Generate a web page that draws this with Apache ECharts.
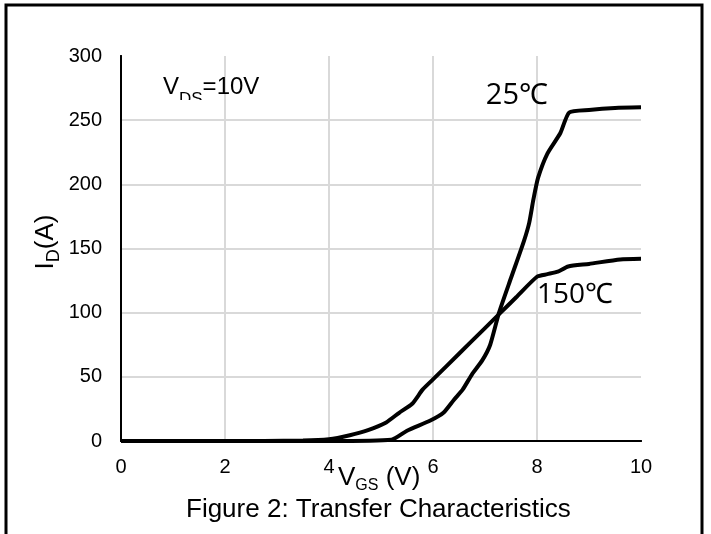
<!DOCTYPE html>
<html>
<head>
<meta charset="utf-8">
<script src="https://cdn.jsdelivr.net/npm/echarts@6/dist/echarts.min.js"></script>
<style>
  html, body { margin: 0; padding: 0; background: #fff; }
  #chart { width: 711px; height: 534px; }
</style>
</head>
<body>
<div id="chart"></div>
<script>
// 25℃ curve
const vgs25 = [0, 2, 4, 5.2, 5.5, 5.95, 6.2, 6.4, 6.57, 6.75, 6.95, 7.1, 7.27, 7.5, 7.75, 7.85, 7.93, 8.02, 8.2, 8.45, 8.62, 9.0, 9.5, 10]
const id25 = [0, 0, 0, 1, 8, 16, 22, 32, 40, 52, 63, 75, 100, 127, 156, 170, 188, 205, 224, 240, 256, 258, 259.5, 260]
// 150℃ curve
const vgs150 = [0, 2, 3.5, 4.0, 4.4, 4.75, 5.1, 5.35, 5.6, 5.8, 6.0, 6.5, 7.0, 7.3, 7.6, 8.0, 8.2, 8.4, 8.6, 9.0, 9.6, 10]
const id150 = [0, 0, 0.3, 1.3, 4.5, 8.5, 14.5, 22, 29, 40, 48, 68, 88, 100, 112, 128, 130, 132, 136, 138, 141.5, 142]

const FONT = 'Liberation Sans'
const zip = (xs, ys) => xs.map((x, i) => [x, ys[i]])

const chart = echarts.init(document.getElementById('chart'))

// top / right edges of the plot box
const edgeAxis = {
  show: true,
  axisLine: { show: true, lineStyle: { color: '#000', width: 2 } },
  axisTick: { show: false },
  axisLabel: { show: false },
  splitLine: { show: false }
}
const grid = { show: true, showMinLine: false, showMaxLine: false, lineStyle: { color: '#d9d9d9', width: 2 } }

chart.setOption({
  animation: false,
  backgroundColor: '#fff',
  grid: { left: 121, right: 70, top: 56, bottom: 93 },
  xAxis: [
    {
      type: 'value', min: 0, max: 10, interval: 2,
      axisLine: { show: true, onZero: false, lineStyle: { color: '#000', width: 2 } },
      axisTick: { show: false },
      axisLabel: { color: '#000', fontFamily: FONT, fontSize: 20, margin: 16 },
      splitLine: grid
    },
    Object.assign({ type: 'value', min: 0, max: 10, position: 'top' }, edgeAxis)
  ],
  yAxis: [
    {
      type: 'value', min: 0, max: 300, interval: 50,
      axisLine: { show: true, onZero: false, lineStyle: { color: '#000', width: 2 } },
      axisTick: { show: false },
      axisLabel: { color: '#000', fontFamily: FONT, fontSize: 20, margin: 19 },
      splitLine: grid
    },
    Object.assign({ type: 'value', min: 0, max: 300, position: 'right' }, edgeAxis)
  ],
  graphic: [
    {
      type: 'rect', silent: true, z: 100,
      shape: { x: 6, y: 5, width: 696, height: 560 },
      style: { fill: 'none', stroke: '#000', lineWidth: 3 }
    },
    {
      type: 'text', x: 163, y: 87, z: 100,
      style: {
        text: '{m|V}{s|DS}{m|=10V}', verticalAlign: 'middle',
        rich: {
          m: { fontFamily: FONT, fontSize: 24, fill: '#000' },
          s: { fontFamily: FONT, fontSize: 17, fill: '#000', padding: [24, 0, 0, 0] }
        }
      }
    },
    {
      // the subscript is cut off at the bottom in the original
      type: 'rect', silent: true, z: 101,
      shape: { x: 178, y: 100, width: 30, height: 10 },
      style: { fill: '#fff' }
    },
    {
      type: 'text', x: 548, y: 96, z: 100,
      style: { text: '25℃', align: 'right', verticalAlign: 'middle', fontFamily: 'Open Sans', fontSize: 29, fill: '#000' }
    },
    {
      type: 'text', x: 613, y: 295, z: 100,
      style: { text: '150℃', align: 'right', verticalAlign: 'middle', fontFamily: 'Open Sans', fontSize: 28, fill: '#000' }
    },
    {
      type: 'text', x: 46, y: 242, rotation: Math.PI / 2, z: 100,
      style: {
        text: '{m|I}{s|D}{m|(A)}', align: 'center', verticalAlign: 'middle',
        rich: {
          m: { fontFamily: FONT, fontSize: 26, fill: '#000' },
          s: { fontFamily: FONT, fontSize: 18, fill: '#000', padding: [16, 0, 0, 0] }
        }
      }
    },
    {
      type: 'text', x: 338, y: 478, z: 100,
      style: {
        text: '{m|V}{s|GS}{m| (V)}', verticalAlign: 'middle',
        rich: {
          m: { fontFamily: FONT, fontSize: 26, fill: '#000' },
          s: { fontFamily: FONT, fontSize: 16, fill: '#000', padding: [16, 0, 0, 0] }
        }
      }
    },
    {
      type: 'text', x: 186, y: 510, z: 100,
      style: { text: 'Figure 2: Transfer Characteristics', verticalAlign: 'middle', fontFamily: FONT, fontSize: 26, fill: '#000' }
    }
  ],
  series: [
    {
      name: '25℃', type: 'line', xAxisIndex: 0, yAxisIndex: 0,
      data: zip(vgs25, id25), showSymbol: false, smooth: 0.2,
      lineStyle: { color: '#000', width: 4 }, z: 5
    },
    {
      name: '150℃', type: 'line', xAxisIndex: 0, yAxisIndex: 0,
      data: zip(vgs150, id150), showSymbol: false, smooth: 0.2,
      lineStyle: { color: '#000', width: 4 }, z: 5
    }
  ]
})
</script>
</body>
</html>
